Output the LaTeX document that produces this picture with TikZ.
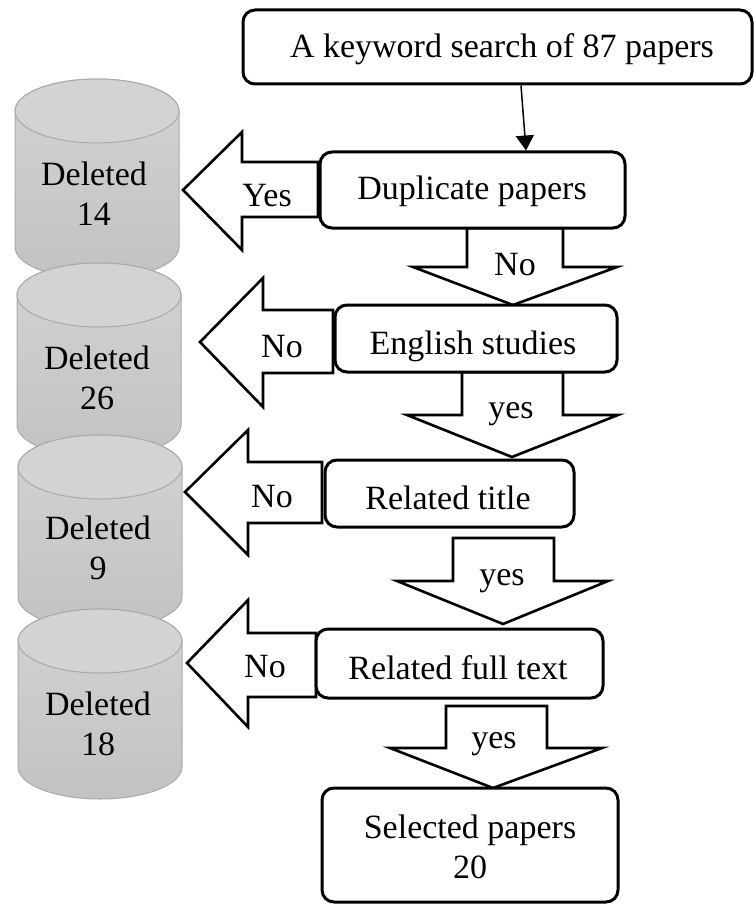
\documentclass[tikz,border=0pt]{standalone}
\usepackage{fontspec}
\setmainfont{Liberation Serif}
\usetikzlibrary{arrows.meta}

\definecolor{cylfill}{HTML}{D3D3D3}
\definecolor{cylshade}{HTML}{C2C2C2}
\definecolor{cyledge}{HTML}{AAAAAA}

\tikzset{
  flowbox/.style={draw, line width=3pt, rounded corners=12pt, fill=white, inner sep=0pt},
  blockarrow/.style={draw, line width=2.6pt, fill=white, line join=miter},
  lbl/.style={font=\fontsize{34}{39.5}\selectfont, anchor=base, inner sep=0pt, align=center},
  cylbody/.style={draw=cyledge, line width=1pt, top color=cylfill, bottom color=cylshade},
  cyltop/.style={draw=cyledge, line width=1pt, fill=cylfill},
  thinarrow/.style={line width=1.5pt, -{Triangle[length=15pt,width=18pt]}},
}

% drum: centre x, top ellipse centre y, bottom ellipse centre y (y measured downwards)
\newcommand\drumshape[3]{%
  \path[cylbody] (#1-82,-#2) -- (#1-82,-#3)
    arc[start angle=180,end angle=360,x radius=82,y radius=32]
    -- (#1+82,-#2)
    arc[start angle=0,end angle=180,x radius=82,y radius=32] -- cycle;
  \path[cyltop] (#1,-#2) ellipse[x radius=82,y radius=32];
}

\begin{document}
\begin{tikzpicture}[x=1pt,y=1pt]
\useasboundingbox (0,0) rectangle (754,-904);

% deleted-paper drums, stacked top to bottom (labels anchored on their last line)
\drumshape{97}{111}{247}
\node[lbl] (del1) at (94,-225) {Deleted\\14};
\drumshape{99}{295}{425}
\node[lbl] (del2) at (97,-409) {Deleted\\26};
\drumshape{100}{467}{597}
\node[lbl] (del3) at (98,-579) {Deleted\\9};
\drumshape{100}{641}{767}
\node[lbl] (del4) at (98,-755) {Deleted\\18};

% left block arrows towards the drums
\draw[blockarrow] (318,-162) -- (242,-162) -- (242,-132) -- (183,-190)
  -- (242,-250) -- (242,-217) -- (318,-217) -- cycle;
\draw[blockarrow] (333,-310) -- (263,-310) -- (263,-278) -- (200,-342)
  -- (263,-407) -- (263,-373) -- (333,-373) -- cycle;
\draw[blockarrow] (322,-462) -- (248,-462) -- (248,-430) -- (185,-492)
  -- (248,-555) -- (248,-523) -- (322,-523) -- cycle;
\draw[blockarrow] (316,-633) -- (248,-633) -- (248,-600) -- (187,-663)
  -- (248,-727) -- (248,-697) -- (316,-697) -- cycle;

% downward block arrows between the steps
\draw[blockarrow] (467,-228) -- (467,-267) -- (413,-267) -- (513,-305)
  -- (617,-267) -- (563,-267) -- (563,-228) -- cycle;
\draw[blockarrow] (462,-372) -- (462,-415) -- (407,-415) -- (512,-457)
  -- (618,-415) -- (563,-415) -- (563,-372) -- cycle;
\draw[blockarrow] (453,-538) -- (453,-581) -- (397,-581) -- (503,-624)
  -- (608,-581) -- (554,-581) -- (554,-538) -- cycle;
\draw[blockarrow] (446,-706) -- (446,-748) -- (390,-748) -- (493,-788)
  -- (602,-748) -- (547,-748) -- (547,-706) -- cycle;

% process boxes
\node[flowbox, minimum width=509pt, minimum height=74pt] (search) at (497.5,-47) {};
\node[flowbox, minimum width=305pt, minimum height=76pt] (dup) at (472.5,-190) {};
\node[flowbox, minimum width=282pt, minimum height=67pt] (eng) at (476,-338.5) {};
\node[flowbox, minimum width=249pt, minimum height=67pt] (title) at (449.5,-493.5) {};
\node[flowbox, minimum width=287pt, minimum height=69pt] (full) at (459.5,-663.5) {};
\node[flowbox, minimum width=296pt, minimum height=114pt] (sel) at (470,-845) {};

\draw[thinarrow] ([xshift=23.5pt]search.south) -- ([xshift=53.5pt]dup.north);

% box texts
\node[lbl] (searchtxt) at (502,-58) {A keyword search of 87 papers};
\node[lbl] (duptxt) at (472,-200) {Duplicate papers};
\node[lbl] (engtxt) at (473,-354) {English studies};
\node[lbl] (titletxt) at (448,-509) {Related title};
\node[lbl] (fulltxt) at (458,-679) {Related full text};
\node[lbl] (seltxt) at (470,-878) {Selected papers\\20};

% arrow labels
\node[lbl] (no1) at (515,-275) {No};
\node[lbl] (yes2) at (511,-418) {yes};
\node[lbl] (yes3) at (502,-585) {yes};
\node[lbl] (yes4) at (494,-748) {yes};
\node[lbl] (yesL1) at (267,-206) {Yes};
\node[lbl] (noL2) at (282,-357) {No};
\node[lbl] (noL3) at (272,-507) {No};
\node[lbl] (noL4) at (265,-677) {No};
\end{tikzpicture}
\end{document}
